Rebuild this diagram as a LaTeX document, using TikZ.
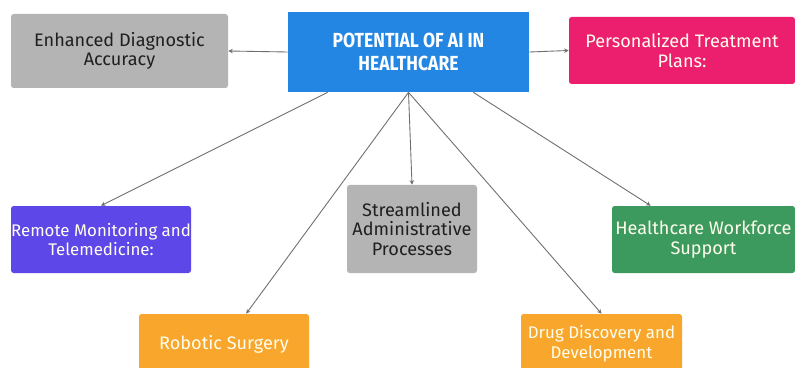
\documentclass[tikz,border=0pt]{standalone}
\usepackage{fontspec}
\setmainfont{Fira Sans}
\newfontfamily\titlefont[FakeStretch=0.86]{Fira Sans}
\usepackage{tikz}
\usetikzlibrary{arrows.meta,positioning}
\definecolor{boxgray}{HTML}{B4B4B4}
\definecolor{titleblue}{HTML}{2386E2}
\definecolor{boxpink}{HTML}{EC1F6E}
\definecolor{boxpurple}{HTML}{5D47E9}
\definecolor{boxgreen}{HTML}{3D9A5E}
\definecolor{boxorange}{HTML}{F9A62C}
\definecolor{linkgray}{HTML}{6E6E6E}

\begin{document}
\begin{tikzpicture}[x=0.02cm,y=-0.02cm,
    box/.style={rounded corners=1.5pt,align=center,inner sep=0pt,font=\fontsize{10.3}{11.2}\selectfont},
    light/.style={box,text=white!93!yellow},
    narrow/.style={font=\fontsize{9.6}{11.2}\selectfont},
    link/.style={draw=linkgray,line width=0.5pt,-{Stealth[length=2.5pt,width=2.5pt]}}]
    \useasboundingbox[fill=white] (0,0) rectangle (795,368);
    \node[box,fill=titleblue,minimum width=241*0.02cm,minimum height=80*0.02cm,rounded corners=0pt,
      font=\titlefont\bfseries\fontsize{11.6}{12.6}\selectfont,text=white] (title) at (408.5,52)
      {POTENTIAL OF AI IN\\HEALTHCARE};
    \node[box,fill=boxgray,text=black!88,minimum width=217*0.02cm,minimum height=74*0.02cm] (diag) at (119.5,51)
      {Enhanced Diagnostic\\Accuracy};
    \node[light,fill=boxpink,minimum width=226*0.02cm,minimum height=67*0.02cm] (plans) at (682,50.5)
      {Personalized Treatment\\Plans:};
    \node[light,narrow,fill=boxpurple,minimum width=180*0.02cm,minimum height=67*0.02cm] (remote) at (101,239.5)
      {Remote Monitoring and\\Telemedicine:};
    \node[box,fill=boxgray,text=black!88,minimum width=130*0.02cm,minimum height=88*0.02cm] (admin) at (412,229)
      {Streamlined\\Administrative\\Processes};
    \node[light,fill=boxgreen,minimum width=183*0.02cm,minimum height=67*0.02cm] (workforce) at (703.5,239.5)
      {Healthcare Workforce\\Support};
    \node[light,fill=boxorange,minimum width=170*0.02cm,minimum height=60*0.02cm] (robotic) at (224,344)
      {Robotic Surgery};
    \node[light,narrow,fill=boxorange,minimum width=161*0.02cm,minimum height=60*0.02cm] (drug) at (601.5,344)
      {Drug Discovery and\\Development};
    \draw[link] (title.west) -- (diag.east);
    \draw[link] (title.east) -- (plans.west);
    \draw[link] ([xshift=40*0.02cm]title.south west) -- (remote.north);
    \draw[link] (title.south) -- (robotic);
    \draw[link] (title.south) -- (admin.north);
    \draw[link] (title.south) -- (drug.north);
    \draw[link] ([xshift=-56*0.02cm]title.south east) -- (workforce);
  \end{tikzpicture}
\end{document}
